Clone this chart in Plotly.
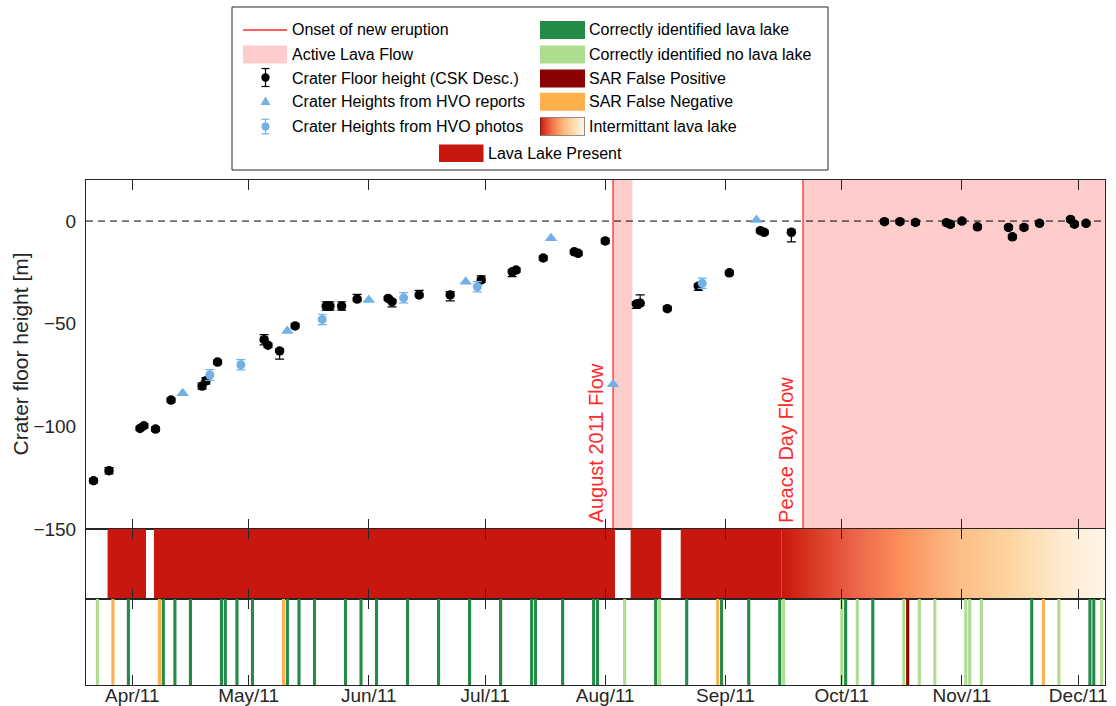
import plotly.graph_objects as go

# ---------------- data ----------------
csk_dates = ["2011-03-22", "2011-03-26", "2011-04-03", "2011-04-04", "2011-04-07", "2011-04-11",
             "2011-04-19", "2011-04-20", "2011-04-23", "2011-05-05", "2011-05-06", "2011-05-09",
             "2011-05-13", "2011-05-21", "2011-05-22", "2011-05-25", "2011-05-29", "2011-06-06",
             "2011-06-07", "2011-06-14", "2011-06-22", "2011-06-30", "2011-07-08", "2011-07-09",
             "2011-07-16", "2011-07-24", "2011-07-25", "2011-08-01", "2011-08-09", "2011-08-10",
             "2011-08-17", "2011-08-25", "2011-09-02", "2011-09-10", "2011-09-11", "2011-09-18",
             "2011-10-12", "2011-10-16", "2011-10-20", "2011-10-28", "2011-10-29", "2011-11-01",
             "2011-11-05", "2011-11-13", "2011-11-14", "2011-11-17", "2011-11-21", "2011-11-29",
             "2011-11-30", "2011-12-03"]
csk_height = [-126.5, -121.6, -101.0, -99.7, -101.3, -87.2,
              -80.4, -77.8, -68.7, -57.8, -60.5, -63.3,
              -51.1, -41.4, -41.4, -41.4, -38.0, -37.7,
              -39.3, -36.0, -36.0, -28.7, -24.7, -23.9,
              -18.0, -15.0, -15.7, -9.7, -40.4, -40.0,
              -42.7, -31.7, -25.2, -4.7, -5.5, -5.5,
              -0.3, -0.3, -0.7, -0.8, -1.6, 0.0,
              -2.8, -3.1, -7.7, -3.1, -1.1, 0.8,
              -1.5, -1.1]
csk_err_plus = [1.0, 1.5, 1.0, 1.0, 1.0, 1.0,
                1.5, 1.5, 1.0, 2.5, 1.0, 1.0,
                1.0, 2.1, 2.1, 2.1, 2.3, 1.0,
                1.0, 2.2, 1.6, 2.0, 1.0, 1.0,
                1.0, 1.0, 1.0, 1.0, 1.0, 4.0,
                1.0, 1.0, 1.0, 1.0, 1.0, 1.5,
                1.0, 1.0, 1.0, 1.0, 1.0, 1.0,
                1.0, 1.0, 1.0, 1.0, 1.0, 1.0,
                1.0, 1.0]
csk_err_minus = [1.0, 1.5, 1.0, 1.0, 1.0, 1.0,
                 1.5, 1.5, 1.0, 2.5, 1.0, 4.0,
                 1.0, 2.0, 2.0, 2.0, 1.0, 1.0,
                 2.5, 1.0, 2.9, 1.0, 2.4, 1.0,
                 1.0, 1.0, 1.0, 1.0, 2.2, 1.0,
                 1.0, 2.1, 1.0, 1.0, 1.0, 4.6,
                 1.0, 1.0, 1.0, 1.0, 1.0, 1.0,
                 1.0, 1.0, 1.0, 1.0, 1.0, 1.0,
                 1.0, 1.0]

report_dates = ["2011-04-14", "2011-05-11", "2011-06-01", "2011-06-26", "2011-07-18", "2011-08-03", "2011-09-09"]
report_height = [-83.9, -53.6, -38.5, -29.6, -8.4, -79.5, 0.5]

photo_dates = ["2011-04-21", "2011-04-29", "2011-05-20", "2011-06-10", "2011-06-29", "2011-08-26"]
photo_height = [-75.0, -70.0, -47.9, -37.4, -32.0, -30.3]
photo_err = [2.6, 2.5, 2.5, 2.5, 2.5, 2.5]

flow_start = ["2011-08-03", "2011-09-21"]
flow_end = ["2011-08-08", "2011-12-07 21:30"]
flow_names = ["August 2011 Flow", "Peace Day Flow"]

lake_start = ["2011-03-25 15:00", "2011-04-06 14:00", "2011-08-07 13:00", "2011-08-20 11:00"]
lake_end = ["2011-04-04 13:00", "2011-08-03 12:00", "2011-08-15 10:00", "2011-09-15 12:00"]
intermittent_start = "2011-09-15 12:00"
intermittent_end = "2011-12-07 21:30"

correct_lake = ["2011-03-31", "2011-04-09", "2011-04-12", "2011-04-16", "2011-04-24", "2011-04-25",
                "2011-04-28", "2011-05-02", "2011-05-11", "2011-05-14", "2011-05-18", "2011-05-26",
                "2011-05-30", "2011-06-03", "2011-06-11", "2011-06-19", "2011-06-27", "2011-07-05",
                "2011-07-13", "2011-07-14", "2011-07-21", "2011-07-29", "2011-07-30", "2011-08-14",
                "2011-08-22", "2011-08-31", "2011-09-07", "2011-09-15", "2011-10-02", "2011-10-09",
                "2011-11-19", "2011-12-04", "2011-12-05"]
correct_no_lake = ["2011-03-23", "2011-08-06", "2011-08-15", "2011-09-16", "2011-10-01", "2011-10-05",
                   "2011-10-17", "2011-10-21", "2011-10-25", "2011-11-02", "2011-11-03", "2011-11-06",
                   "2011-11-26", "2011-12-07"]
false_positive = ["2011-10-18"]
false_negative = ["2011-03-27", "2011-04-08", "2011-05-10", "2011-08-30", "2011-11-22"]

month_ticks = ["2011-04-01", "2011-05-01", "2011-06-01", "2011-07-01", "2011-08-01",
               "2011-09-01", "2011-10-01", "2011-11-01", "2011-12-01"]
height_ticks = [-150, -100, -50, 0]

# ---------------- style ----------------
FONT = "Liberation Sans, Arial, Helvetica, sans-serif"
AXC = "#262626"
RED = "#ff2a2a"
PINK = "#ffcccc"
LAVA = "#c8170e"
DG = "#238b45"
LG = "#addd8e"
ORANGE = "#fdb04b"
DARKRED = "#8b0000"
BLUE = "#72b1e6"
GRAD = [[0.0, "#c8170e"], [0.1, "#d93a22"], [0.22, "#ec6248"], [0.36, "#fc8d59"],
        [0.54, "#fdbb84"], [0.70, "#fdd49e"], [0.87, "#feeacf"], [1.0, "#fff5e8"]]

W, H = 1116, 706
L, R, T = 86, 1105, 180
Y_BAND, Y_STRIP, B = 529, 599, 685


def fx(x):
    return x / W


def fy(y):
    return 1 - y / H


XR = ["2011-03-20 01:30", "2011-12-07 21:30"]
DAY_MS = 86400000

fig = go.Figure()

# main panel
fig.add_trace(go.Scatter(
    x=csk_dates, y=csk_height, mode="markers", xaxis="x", yaxis="y",
    marker=dict(color="black", size=9.5, line=dict(width=0)),
    error_y=dict(type="data", symmetric=False, array=csk_err_plus, arrayminus=csk_err_minus,
                 color="black", thickness=1.2, width=4.5),
    showlegend=False))
fig.add_trace(go.Scatter(
    x=report_dates, y=report_height, mode="markers", xaxis="x", yaxis="y",
    marker=dict(color=BLUE, size=11, symbol="triangle-up", line=dict(width=0)),
    showlegend=False))
fig.add_trace(go.Scatter(
    x=photo_dates, y=photo_height, mode="markers", xaxis="x", yaxis="y",
    marker=dict(color=BLUE, size=9, line=dict(width=0)),
    error_y=dict(type="data", array=photo_err, color=BLUE, thickness=1.2, width=4.5),
    showlegend=False))

# band panel: lava lake present
lx, ly = [], []
for s, e in zip(lake_start, lake_end):
    lx += [s, e, e, s, s, None]
    ly += [0, 0, 1, 1, 0, None]
fig.add_trace(go.Scatter(x=lx, y=ly, mode="lines", fill="toself", fillcolor=LAVA,
                         line=dict(width=0, color=LAVA), xaxis="x2", yaxis="y2",
                         showlegend=False, hoverinfo="skip"))
fig.add_trace(go.Scatter(
    x=[intermittent_start, intermittent_end, intermittent_end, intermittent_start, intermittent_start],
    y=[0, 0, 1, 1, 0], mode="lines", fill="toself",
    fillgradient=dict(type="horizontal", colorscale=GRAD),
    line=dict(width=0), xaxis="x2", yaxis="y2", showlegend=False, hoverinfo="skip"))

# strip panel
for dates, col in [(correct_no_lake, LG), (correct_lake, DG), (false_negative, ORANGE), (false_positive, DARKRED)]:
    fig.add_trace(go.Bar(x=dates, y=[1] * len(dates), width=[0.8 * DAY_MS] * len(dates),
                         marker=dict(color=col, line=dict(width=0)), xaxis="x3", yaxis="y3",
                         showlegend=False))

# legend swatch for intermittent lava lake (gradient)
fig.add_trace(go.Scatter(x=[0, 1, 1, 0, 0], y=[0, 0, 1, 1, 0], mode="lines", fill="toself",
                         fillgradient=dict(type="horizontal", colorscale=GRAD),
                         line=dict(width=1, color=AXC), xaxis="x4", yaxis="y4",
                         showlegend=False, hoverinfo="skip"))

shapes = []
# active flows and onset lines
for s, e in zip(flow_start, flow_end):
    shapes.append(dict(type="rect", xref="x", yref="y domain", x0=s, x1=e, y0=0, y1=1,
                       fillcolor=PINK, line=dict(width=0), layer="below"))
for s in flow_start:
    shapes.append(dict(type="line", xref="x", yref="y domain", x0=s, x1=s, y0=0, y1=1,
                       line=dict(color=RED, width=1.3), layer="below"))
shapes.append(dict(type="line", xref="x domain", yref="y", x0=0, x1=1, y0=0, y1=0,
                   line=dict(color="black", width=1, dash="7px,5px"), layer="below"))

# ---------------- legend (drawn) ----------------
shapes.append(dict(type="rect", xref="paper", yref="paper", x0=fx(232), x1=fx(828), y0=fy(170), y1=fy(7),
                   line=dict(color=AXC, width=1), fillcolor="white", layer="below"))
rows = [30, 54.4, 78.5, 101.7, 126.5]
shapes.append(dict(type="line", xref="paper", yref="paper", x0=fx(243), x1=fx(287), y0=fy(rows[0]), y1=fy(rows[0]),
                   line=dict(color=RED, width=1.5)))
shapes.append(dict(type="rect", xref="paper", yref="paper", x0=fx(243), x1=fx(287), y0=fy(rows[1] + 9), y1=fy(rows[1] - 9),
                   fillcolor=PINK, line=dict(width=0)))
# CSK marker with error bar
cy = 77.5
shapes.append(dict(type="line", xref="paper", yref="paper", x0=fx(265.5), x1=fx(265.5), y0=fy(cy - 9), y1=fy(cy + 9),
                   line=dict(color="black", width=1.2)))
for yy in (cy - 9, cy + 9):
    shapes.append(dict(type="line", xref="paper", yref="paper", x0=fx(261.5), x1=fx(269.5), y0=fy(yy), y1=fy(yy),
                       line=dict(color="black", width=1.2)))
shapes.append(dict(type="circle", xref="paper", yref="paper", x0=fx(261.3), x1=fx(269.7), y0=fy(cy + 4.2), y1=fy(cy - 4.2),
                   fillcolor="black", line=dict(width=0)))
# triangle
shapes.append(dict(type="path", xref="paper", yref="paper",
                   path=f"M {fx(260.5)},{fy(105)} L {fx(270.5)},{fy(105)} L {fx(265.5)},{fy(96.5)} Z",
                   fillcolor=BLUE, line=dict(width=0)))
# photo marker
cy = 126.5
shapes.append(dict(type="line", xref="paper", yref="paper", x0=fx(265.5), x1=fx(265.5), y0=fy(cy - 7.3), y1=fy(cy + 7.3),
                   line=dict(color=BLUE, width=1.2)))
for yy in (cy - 7.3, cy + 7.3):
    shapes.append(dict(type="line", xref="paper", yref="paper", x0=fx(261.5), x1=fx(269.5), y0=fy(yy), y1=fy(yy),
                       line=dict(color=BLUE, width=1.2)))
shapes.append(dict(type="circle", xref="paper", yref="paper", x0=fx(261.5), x1=fx(269.5), y0=fy(cy + 4), y1=fy(cy - 4),
                   fillcolor=BLUE, line=dict(width=0)))
# right column swatches
for yy, col in zip(rows[:4], [DG, LG, DARKRED, ORANGE]):
    shapes.append(dict(type="rect", xref="paper", yref="paper", x0=fx(540), x1=fx(585), y0=fy(yy + 9), y1=fy(yy - 9),
                       fillcolor=col, line=dict(width=0)))
shapes.append(dict(type="rect", xref="paper", yref="paper", x0=fx(439), x1=fx(483.5), y0=fy(162), y1=fy(144.5),
                   fillcolor=LAVA, line=dict(width=0)))

annotations = []
left_texts = ["Onset of new eruption", "Active Lava Flow", "Crater Floor height (CSK Desc.)",
              "Crater Heights from HVO reports", "Crater Heights from HVO photos"]
right_texts = ["Correctly identified lava lake", "Correctly identified no lava lake", "SAR False Positive",
               "SAR False Negative", "Intermittant lava lake"]
for yy, t in zip(rows, left_texts):
    annotations.append(dict(text=t, xref="paper", yref="paper", x=fx(289.5), y=fy(yy), xanchor="left",
                            yanchor="middle", showarrow=False, font=dict(size=16, color="black", family=FONT)))
for yy, t in zip(rows, right_texts):
    annotations.append(dict(text=t, xref="paper", yref="paper", x=fx(587), y=fy(yy), xanchor="left",
                            yanchor="middle", showarrow=False, font=dict(size=16, color="black", family=FONT)))
annotations.append(dict(text="Lava Lake Present", xref="paper", yref="paper", x=fx(485.5), y=fy(153.3),
                        xanchor="left", yanchor="middle", showarrow=False,
                        font=dict(size=16, color="black", family=FONT)))

# flow labels
for s, name in zip(flow_start, flow_names):
    annotations.append(dict(text=name, xref="x", yref="y", x=s, y=-148, textangle=-90,
                            xanchor="right", yanchor="bottom", xshift=-4, showarrow=False,
                            font=dict(size=20, color=RED, family=FONT)))
# y title
annotations.append(dict(text="Crater floor height [m]", xref="paper", yref="paper", x=fx(20), y=fy(354.5),
                        textangle=-90, xanchor="center", yanchor="middle", showarrow=False,
                        font=dict(size=21, color=AXC, family=FONT)))

xcommon = dict(type="date", tickvals=month_ticks, ticks="inside", ticklen=10, tickcolor=AXC,
               showline=True, linecolor=AXC, linewidth=1, mirror="ticks", showgrid=False,
               zeroline=False, automargin=False)
ycommon = dict(showline=True, linecolor=AXC, linewidth=1, mirror=True, showgrid=False, zeroline=False,
               automargin=False)
XDOM = [fx(L), fx(R)]

fig.update_layout(
    width=W, height=H, autosize=False,
    margin=dict(l=0, r=0, t=0, b=0, pad=0),
    paper_bgcolor="white", plot_bgcolor="white",
    font=dict(family=FONT, color=AXC, size=19),
    barmode="overlay",
    showlegend=False,
    xaxis=dict(domain=XDOM, anchor="y", range=XR, showticklabels=False, **xcommon),
    xaxis2=dict(domain=XDOM, anchor="y2", matches="x", showticklabels=False, **xcommon),
    xaxis3=dict(domain=XDOM, anchor="y3", matches="x", showticklabels=True, tickformat="%b/%y",
                tickfont=dict(size=19, color=AXC), ticklabelstandoff=-7, **xcommon),
    yaxis=dict(domain=[fy(Y_BAND), fy(T)], anchor="x", range=[-150, 20], tickvals=height_ticks, ticks="",
               tickfont=dict(size=19, color=AXC), ticklabelstandoff=5, **ycommon),
    yaxis2=dict(domain=[fy(Y_STRIP), fy(Y_BAND)], anchor="x2", range=[0, 1], showticklabels=False, ticks="", **ycommon),
    yaxis3=dict(domain=[fy(B), fy(Y_STRIP)], anchor="x3", range=[0, 1], showticklabels=False,
                ticks="", **ycommon),
    xaxis4=dict(domain=[fx(540), fx(585)], anchor="y4", range=[0, 1], visible=False),
    yaxis4=dict(domain=[fy(135.5), fy(117.5)], anchor="x4", range=[0, 1], visible=False),
    shapes=shapes,
    annotations=annotations,
)

fig.write_html("out.html", config={"responsive": False, "displayModeBar": False},
               post_script="document.body.style.margin='0';document.body.style.overflow='hidden';")
